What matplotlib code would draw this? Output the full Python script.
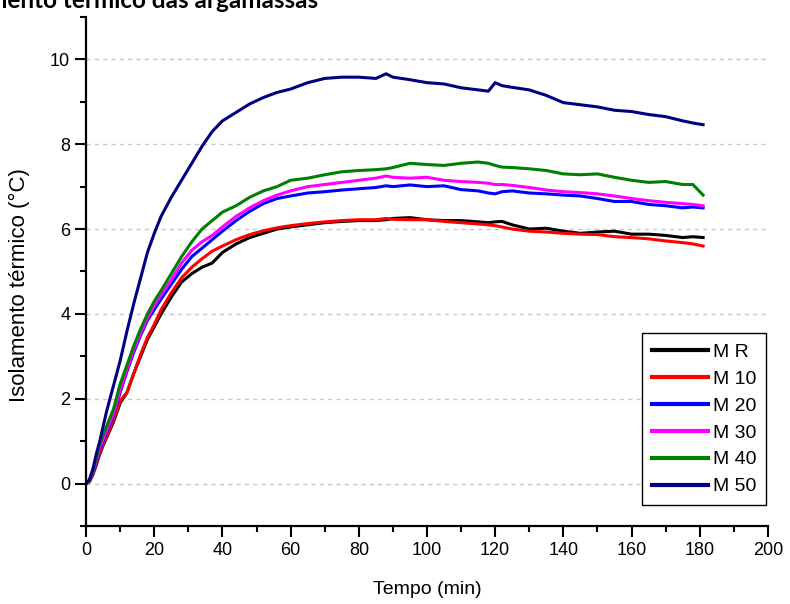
import matplotlib
matplotlib.use("Agg")
import matplotlib.pyplot as plt
from matplotlib.ticker import MultipleLocator

# tempo (min)
tempo = [0, 1, 2, 3, 4, 5, 6, 8, 10, 12, 14, 16, 18, 20, 22, 25, 28, 31, 34, 37,
         40, 44, 48, 52, 56, 60, 65, 70, 75, 80, 85, 88, 90, 95, 100, 105, 110,
         115, 118, 120, 122, 125, 130, 135, 140, 145, 150, 155, 160, 165, 170,
         175, 178, 181]

mr = [0, 0.05, 0.22, 0.45, 0.7, 0.9, 1.08, 1.45, 1.9, 2.15, 2.6, 3.0, 3.4, 3.7,
      4.0, 4.4, 4.75, 4.95, 5.1, 5.2, 5.45, 5.65, 5.8, 5.9, 6.0, 6.05, 6.1, 6.15,
      6.18, 6.2, 6.2, 6.22, 6.25, 6.27, 6.22, 6.2, 6.2, 6.17, 6.15, 6.17, 6.18,
      6.1, 6.0, 6.02, 5.95, 5.9, 5.93, 5.95, 5.88, 5.88, 5.85, 5.8, 5.82, 5.8]

m10 = [0, 0.05, 0.22, 0.45, 0.72, 0.92, 1.1, 1.5, 1.95, 2.15, 2.6, 3.05, 3.45,
       3.75, 4.1, 4.5, 4.85, 5.1, 5.3, 5.48, 5.6, 5.75, 5.87, 5.96, 6.03, 6.08,
       6.13, 6.17, 6.2, 6.22, 6.22, 6.25, 6.23, 6.22, 6.22, 6.18, 6.15, 6.12,
       6.1, 6.08, 6.05, 6.0, 5.95, 5.93, 5.9, 5.88, 5.87, 5.82, 5.8, 5.77, 5.72,
       5.68, 5.65, 5.6]

m20 = [0, 0.06, 0.25, 0.5, 0.8, 1.0, 1.2, 1.6, 2.15, 2.65, 3.1, 3.5, 3.85, 4.1,
       4.35, 4.7, 5.05, 5.35, 5.55, 5.75, 5.95, 6.2, 6.42, 6.6, 6.72, 6.78, 6.85,
       6.88, 6.92, 6.95, 6.98, 7.02, 7.0, 7.04, 7.0, 7.02, 6.93, 6.9, 6.85, 6.83,
       6.88, 6.9, 6.85, 6.83, 6.8, 6.78, 6.72, 6.65, 6.65, 6.58, 6.55, 6.5, 6.52,
       6.5]

m30 = [0, 0.07, 0.28, 0.55, 0.85, 1.05, 1.25, 1.65, 2.2, 2.7, 3.15, 3.55, 3.9,
       4.2, 4.45, 4.8, 5.2, 5.5, 5.7, 5.85, 6.05, 6.3, 6.5, 6.67, 6.8, 6.9, 7.0,
       7.05, 7.1, 7.15, 7.2, 7.25, 7.22, 7.2, 7.22, 7.15, 7.12, 7.1, 7.08, 7.05,
       7.05, 7.03, 6.98, 6.92, 6.88, 6.86, 6.83, 6.78, 6.72, 6.67, 6.63, 6.6,
       6.58, 6.55]

m40 = [0, 0.08, 0.3, 0.6, 0.95, 1.15, 1.35, 1.75, 2.35, 2.8, 3.25, 3.65, 4.0,
       4.3, 4.55, 4.95, 5.35, 5.7, 6.0, 6.2, 6.4, 6.55, 6.75, 6.9, 7.0, 7.15, 7.2,
       7.28, 7.35, 7.38, 7.4, 7.42, 7.45, 7.55, 7.52, 7.5, 7.55, 7.58, 7.55, 7.5,
       7.46, 7.45, 7.42, 7.38, 7.3, 7.28, 7.3, 7.22, 7.15, 7.1, 7.12, 7.05, 7.05,
       6.8]

m50 = [0, 0.1, 0.35, 0.7, 1.0, 1.35, 1.7, 2.3, 2.9, 3.6, 4.25, 4.85, 5.45, 5.9,
       6.3, 6.75, 7.15, 7.55, 7.95, 8.3, 8.55, 8.75, 8.95, 9.1, 9.22, 9.3, 9.45,
       9.55, 9.58, 9.58, 9.55, 9.66, 9.58, 9.52, 9.45, 9.42, 9.33, 9.28, 9.25,
       9.45, 9.38, 9.34, 9.28, 9.15, 8.98, 8.93, 8.88, 8.8, 8.77, 8.7, 8.65, 8.55,
       8.5, 8.46]

series = [("M R", mr, "black"), ("M 10", m10, "#ff0000"), ("M 20", m20, "#0000ff"),
          ("M 30", m30, "#ff00ff"), ("M 40", m40, "#008000"), ("M 50", m50, "#000080")]

plt.rcParams['font.family'] = ['Liberation Sans', 'DejaVu Sans']

fig = plt.figure(figsize=(7.9, 6.04), dpi=100)
ax = fig.add_axes([0.109, 0.129, 0.863, 0.843])

for name, vals, cor in series:
    ax.plot(tempo, vals, color=cor, lw=2.2, label=name)

ax.set_xlim(0, 200)
ax.set_ylim(-1, 11)
ax.xaxis.set_major_locator(MultipleLocator(20))
ax.xaxis.set_minor_locator(MultipleLocator(10))
ax.yaxis.set_major_locator(MultipleLocator(2))
ax.yaxis.set_minor_locator(MultipleLocator(1))
ax.grid(axis='y', which='major', color='#c8c8c8', ls=(0, (3, 3)), lw=1)

for s in ['top', 'right']:
    ax.spines[s].set_visible(False)
for s in ['left', 'bottom']:
    ax.spines[s].set_linewidth(1.6)
ax.tick_params(which='major', length=8, width=1.5, labelsize=13)
ax.tick_params(which='minor', length=4, width=1.5)

ax.set_xlabel("Tempo (min)", fontsize=14, labelpad=16)
ax.set_ylabel("Isolamento térmico (°C)", fontsize=16)
ax.yaxis.set_label_coords(-0.082, 0.473)

leg = ax.legend(loc='lower right', bbox_to_anchor=(1.012, 0.022), fontsize=14,
                handlelength=2.9, handletextpad=0.25, labelspacing=0.48,
                borderpad=0.5, fancybox=False, framealpha=1)
leg.get_frame().set_edgecolor('black')
leg.get_frame().set_linewidth(1)
for ln in leg.get_lines():
    ln.set_linewidth(3)

fig.text(0.4025, 0.986, "Isolamento térmico das argamassas", ha='right', va='baseline',
         fontsize=17.5, fontweight='bold', family=['Lato', 'DejaVu Sans'])

fig.savefig("out.png", dpi=100)
